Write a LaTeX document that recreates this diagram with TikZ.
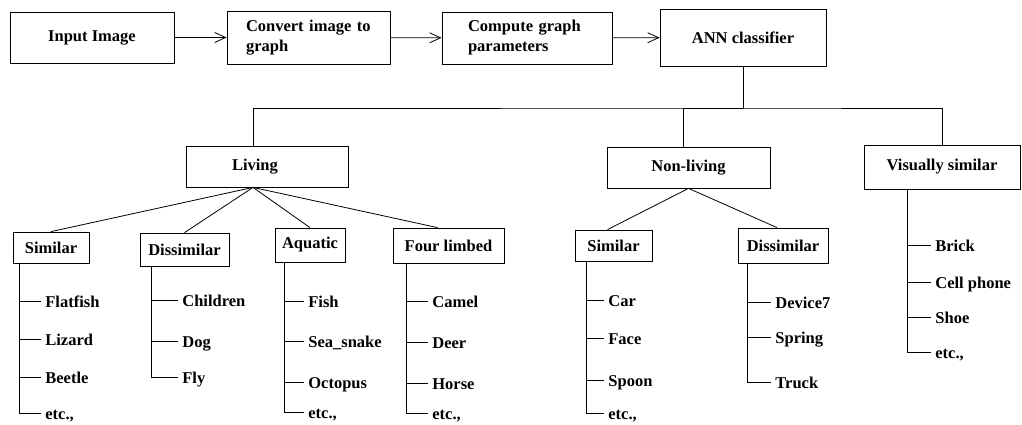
\documentclass[tikz,border=0pt]{standalone}
\usepackage{fontspec}
\setmainfont{Liberation Serif}
\usetikzlibrary{positioning,arrows.meta}
\tikzset{
box/.style = {draw, minimum width=#1, inner sep=2pt},
box/.default = 80pt, % width of the box
leaf/.style = {anchor=west, inner xsep=4pt, inner ysep=1pt, text height=13pt, text depth=1pt},
link/.style = {-{Straight Barb[length=11pt,width=10pt]}}
}

\begin{document}
\begin{tikzpicture}[x=1pt, y=-1pt, line width=0.8pt,
      every node/.style={font=\fontsize{16.5}{20}\selectfont\bfseries}]
  \useasboundingbox (0,0) rectangle (1022,425);
  % pipeline
  \node [box=164pt, minimum height=51pt] (input) at (92,37.5) {Input Image};
  \node [box=163pt, minimum height=53pt, text width=125pt, inner xsep=19pt, align=left] (convert) at (308.5,37.5) {Convert image to\\graph};
  \node [box=170pt, minimum height=52pt, text width=118pt, inner xsep=26pt, align=left] (compute) at (527,38) {Compute graph\\parameters};
  \node [box=166pt, minimum height=57pt] (ann) at (743,37.5) {ANN classifier};
  \draw [link] (input) -- (convert);
  \draw [link] (convert) -- (compute);
  \draw [link] (compute) -- (ann);

  % classes
  \node [box=162pt, minimum height=41pt, text width=70pt, inner xsep=46pt, align=left] (living) at (267,166.5) {Living};
  \node [box=163pt, minimum height=41pt] (nonliving) at (688.5,167.5) {Non-living};
  \node [box=156pt, minimum height=44pt] (visual) at (942,167) {Visually similar};
  \coordinate (split) at (743,108);
  \draw (ann) -- (split);
  \draw ([xshift=-14pt]living.north) |- (split) -| (visual.north);
  \draw ([xshift=-5pt]nonliving.north) |- (split);

  % sub classes
  \node [box=76pt, minimum height=31pt] (simL) at (51,247.5) {Similar};
  \node [box=89pt, minimum height=33pt] (disL) at (184.5,249.5) {Dissimilar};
  \node [box=70pt, minimum height=34pt] (aqua) at (310,245) {Aquatic};
  \node [box=111pt, minimum height=35pt] (four) at (448.5,245.5) {Four limbed};
  \node [box=77pt, minimum height=31pt] (simN) at (613.5,245.5) {Similar};
  \node [box=90pt, minimum height=35pt] (disN) at (783,245.5) {Dissimilar};
  \draw ([xshift=-14pt]living.south) -- (simL.north);
  \draw ([xshift=-14pt]living.south) -- (disL.north);
  \draw ([xshift=-14pt]living.south) -- (aqua.north);
  \draw ([xshift=-14pt]living.south) -- ([xshift=-11pt]four.north);
  \draw (nonliving.south) -- ([xshift=-6pt]simN.north);
  \draw (nonliving.south) -- ([xshift=-6pt]disN.north);

  % examples
  \foreach \n/\y/\t in {1/301/Flatfish, 2/339/Lizard, 3/377/Beetle, 4/413/{etc.,}}
  {
    \node [leaf] (simL\n) at (41,\y) {\t};
    \draw ([xshift=7pt]simL.south west) |- (simL\n.west);
  }
  \foreach \n/\y/\t in {1/300/Children, 2/341/Dog, 3/377/Fly}
  {
    \node [leaf] (disL\n) at (178,\y) {\t};
    \draw ([xshift=12pt]disL.south west) |- (disL\n.west);
  }
  \foreach \n/\y/\t in {1/301/Fish, 2/341/Sea\_snake, 3/382/Octopus, 4/412/{etc.,}}
  {
    \node [leaf] (aqua\n) at (304,\y) {\t};
    \draw ([xshift=10pt]aqua.south west) |- (aqua\n.west);
  }
  \foreach \n/\y/\t in {1/301/Camel, 2/342/Deer, 3/383/Horse, 4/413/{etc.,}}
  {
    \node [leaf] (four\n) at (428,\y) {\t};
    \draw ([xshift=14pt]four.south west) |- (four\n.west);
  }
  \foreach \n/\y/\t in {1/300/Car, 2/338/Face, 3/380/Spoon, 4/413/{etc.,}}
  {
    \node [leaf] (simN\n) at (604,\y) {\t};
    \draw ([xshift=12pt]simN.south west) |- (simN\n.west);
  }
  \foreach \n/\y/\t in {1/302/Device7, 2/337/Spring, 3/382/Truck}
  {
    \node [leaf] (disN\n) at (771,\y) {\t};
    \draw ([xshift=10pt]disN.south west) |- (disN\n.west);
  }
  \foreach \n/\y/\t in {1/245/Brick, 2/282/Cell phone, 3/317/Shoe, 4/352/{etc.,}}
  {
    \node [leaf] (visual\n) at (931,\y) {\t};
    \draw ([xshift=44pt]visual.south west) |- (visual\n.west);
  }
\end{tikzpicture}
\end{document}
